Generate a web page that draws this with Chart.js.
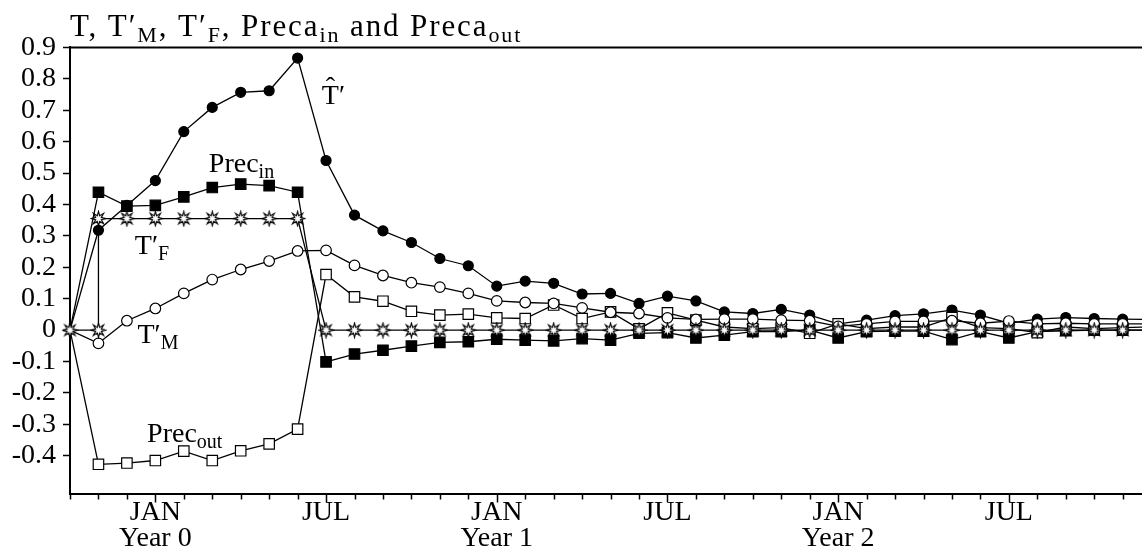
<!DOCTYPE html>
<html>
<head>
<meta charset="utf-8">
<script src="https://cdn.jsdelivr.net/npm/chart.js@4.4.0/dist/chart.umd.min.js"></script>
<style>
  html, body { margin: 0; padding: 0; background: #ffffff; }
  #wrap { width: 1142px; height: 557px; }
</style>
</head>
<body>
<div id="wrap"><canvas id="chart" width="1142" height="557"></canvas></div>
<script>
// Months since the start of the experiment (0 = start, 3 = JAN Year 0).
const months = [0,1,2,3,4,5,6,7,8,9,10,11,12,13,14,15,16,17,18,19,20,21,22,23,24,25,26,27,28,29,30,31,32,33,34,35,36,37,38];

// T-hat prime (filled circles)
const tHat = [0, 0.318, 0.397, 0.476, 0.632, 0.709, 0.757, 0.762, 0.866, 0.540,
  0.366, 0.316, 0.279, 0.228, 0.205, 0.140, 0.156, 0.149, 0.115, 0.117,
  0.085, 0.108, 0.093, 0.058, 0.053, 0.066, 0.048, 0.020, 0.032, 0.046,
  0.052, 0.064, 0.048, 0.022, 0.035, 0.040, 0.037, 0.035, 0.034];

// T'_M (open circles)
const tM = [0, -0.042, 0.030, 0.069, 0.117, 0.161, 0.193, 0.220, 0.252, 0.254,
  0.206, 0.174, 0.151, 0.137, 0.117, 0.093, 0.088, 0.085, 0.071, 0.057,
  0.053, 0.039, 0.034, 0.035, 0.035, 0.032, 0.030, 0.012, 0.020, 0.028,
  0.028, 0.030, 0.022, 0.029, 0.020, 0.022, 0.020, 0.020, 0.020];

// Preca_in (filled squares)
const precIn = [0, 0.439, 0.395, 0.397, 0.424, 0.454, 0.465, 0.460, 0.439, -0.101,
  -0.076, -0.064, -0.051, -0.039, -0.037, -0.029, -0.032, -0.034, -0.027, -0.032,
  -0.010, -0.008, -0.025, -0.016, -0.005, -0.005, 0.000, -0.025, -0.005, -0.003,
  -0.003, -0.030, -0.005, -0.025, -0.005, -0.002, 0.000, 0.000, 0.000];

// Preca_out (open squares)
const precOut = [0, -0.427, -0.423, -0.415, -0.385, -0.415, -0.384, -0.362, -0.315, 0.177,
  0.106, 0.092, 0.060, 0.048, 0.051, 0.039, 0.037, 0.080, 0.037, 0.058,
  0.004, 0.055, 0.032, 0.010, 0.005, 0.008, -0.010, 0.020, 0.005, 0.010,
  0.010, 0.040, 0.008, 0.005, -0.008, 0.010, 0.005, 0.008, 0.010];

// T'_F (stars): a step forcing switched on at month 1 and off at month 9
const tfMonths = [0, 1, 1, 2, 3, 4, 5, 6, 7, 8, 9, 10, 11, 12, 13, 14, 15, 16, 17, 18, 19,
  20, 21, 22, 23, 24, 25, 26, 27, 28, 29, 30, 31, 32, 33, 34, 35, 36, 37, 38];
const tfValues = [0, 0, 0.355, 0.355, 0.355, 0.355, 0.355, 0.355, 0.355, 0.355, 0, 0, 0, 0, 0, 0, 0, 0, 0, 0, 0,
  0, 0, 0, 0, 0, 0, 0, 0, 0, 0, 0, 0, 0, 0, 0, 0, 0, 0, 0];

// Axis ticks and labels
const xTickMonths = [0,1,2,3,4,5,6,7,8,9,10,11,12,13,14,15,16,17,18,19,20,21,22,23,24,25,26,27,28,29,30,31,32,33,34,35,36,37];
const xLabelMonths = [3, 9, 15, 21, 27, 33];
const xLabelLines = [['JAN', 'Year 0'], ['JUL'], ['JAN', 'Year 1'], ['JUL'], ['JAN', 'Year 2'], ['JUL']];
const yTickValues = [-0.4, -0.3, -0.2, -0.1, 0, 0.1, 0.2, 0.3, 0.4, 0.5, 0.6, 0.7, 0.8, 0.9];

const FONT = '"Liberation Serif", "Times New Roman", serif';
const MAIN = 28, SUB = 20, DROP = 6;

function pairs(xs, ys) { return xs.map((x, i) => ({ x: x, y: ys[i] })); }

// Hollow eight-pointed star used for T'_F
function makeStar() {
  const c = document.createElement('canvas');
  c.width = 17; c.height = 17;
  const g = c.getContext('2d');
  g.translate(8.5, 8.5);
  g.beginPath();
  for (let k = 0; k < 16; k++) {
    const r = (k % 2 === 0) ? 7.2 : 3.0;
    const a = k * Math.PI / 8;
    const px = r * Math.cos(a), py = r * Math.sin(a);
    if (k === 0) g.moveTo(px, py); else g.lineTo(px, py);
  }
  g.closePath();
  g.fillStyle = '#ffffff';
  g.fill();
  g.lineWidth = 1.1;
  g.lineJoin = 'miter';
  g.strokeStyle = '#000000';
  g.stroke();
  return c;
}
const star = makeStar();

const skipFirst = r => (ctx => ctx.dataIndex === 0 ? 0 : r);

function richText(ctx, x, y, parts, size, subSize, drop) {
  for (const p of parts) {
    ctx.font = (p.sub ? subSize : size) + 'px ' + FONT;
    ctx.fillText(p.t, x, y + (p.sub ? drop : 0));
    x += ctx.measureText(p.t).width;
  }
  return x;
}

const textPlugin = {
  id: 'textPlugin',
  afterDraw(chart) {
    const ctx = chart.ctx;
    const xs = chart.scales.x, ys = chart.scales.y;
    const area = chart.chartArea;
    ctx.save();
    ctx.fillStyle = '#000';
    ctx.strokeStyle = '#000';
    ctx.textAlign = 'left';
    ctx.textBaseline = 'alphabetic';

    // top frame line at the upper end of the value axis
    ctx.lineWidth = 2;
    ctx.beginPath();
    ctx.moveTo(area.left, area.top);
    ctx.lineTo(area.right, area.top);
    ctx.stroke();

    // month tick marks below the time axis, longer at JAN and JUL
    ctx.lineWidth = 1.5;
    for (const m of xTickMonths) {
      const px = Math.round(xs.getPixelForValue(m)) + 0.5;
      const len = xLabelMonths.includes(m) ? 9 : 6;
      ctx.beginPath();
      ctx.moveTo(px, area.bottom);
      ctx.lineTo(px, area.bottom + len);
      ctx.stroke();
    }

    // title
    ctx.save();
    if ('letterSpacing' in ctx) ctx.letterSpacing = '1.9px';
    richText(ctx, 70, 36, [
      { t: 'T, T\u2032' }, { t: 'M', sub: true },
      { t: ', T\u2032' }, { t: 'F', sub: true },
      { t: ', Preca' }, { t: 'in', sub: true },
      { t: ' and Preca' }, { t: 'out', sub: true }
    ], 31, 22, 6);
    ctx.restore();

    // series names placed next to their curves
    const at = (mx, vy) => [xs.getPixelForValue(mx), ys.getPixelForValue(vy)];

    let [hx, hy] = at(8.85, 0.719);
    ctx.font = MAIN + 'px ' + FONT;
    const tw = ctx.measureText('T').width;
    ctx.fillText('T', hx, hy);
    ctx.textAlign = 'center';
    ctx.fillText('\u02C6', hx + tw / 2, hy - 8);
    ctx.textAlign = 'left';
    ctx.fillText('\u2032', hx + tw, hy);

    let [ix, iy] = at(4.88, 0.503);
    richText(ctx, ix, iy, [{ t: 'Prec' }, { t: 'in', sub: true }], MAIN, SUB, DROP);

    let [fx, fy] = at(2.28, 0.242);
    richText(ctx, fx, fy, [{ t: 'T\u2032' }, { t: 'F', sub: true }], MAIN, SUB, DROP);

    let [mx, my] = at(2.37, -0.041);
    richText(ctx, mx, my, [{ t: 'T\u2032' }, { t: 'M', sub: true }], MAIN, SUB, DROP);

    let [ox, oy] = at(2.71, -0.356);
    richText(ctx, ox, oy, [{ t: 'Prec' }, { t: 'out', sub: true }], MAIN, SUB, DROP);

    ctx.restore();
  }
};

const lineBase = {
  borderColor: '#000000',
  borderWidth: 1.3,
  pointBorderColor: '#000000',
  pointBorderWidth: 1.2,
  tension: 0,
  clip: false
};

new Chart(document.getElementById('chart'), {
  type: 'line',
  data: {
    datasets: [
      Object.assign({}, lineBase, {
        label: "T'F", data: pairs(tfMonths, tfValues), order: 0,
        pointStyle: star, pointRadius: 7, pointBackgroundColor: '#ffffff'
      }),
      Object.assign({}, lineBase, {
        label: "T'M", data: pairs(months, tM), order: 1,
        pointStyle: 'circle', pointRadius: skipFirst(5.3), pointBackgroundColor: '#ffffff'
      }),
      Object.assign({}, lineBase, {
        label: 'Preca out', data: pairs(months, precOut), order: 2,
        pointStyle: 'rect', pointRadius: skipFirst(7.4), pointBackgroundColor: '#ffffff'
      }),
      Object.assign({}, lineBase, {
        label: 'T hat', data: pairs(months, tHat), order: 3,
        pointStyle: 'circle', pointRadius: skipFirst(5), pointBackgroundColor: '#000000'
      }),
      Object.assign({}, lineBase, {
        label: 'Preca in', data: pairs(months, precIn), order: 4,
        pointStyle: 'rect', pointRadius: skipFirst(7.4), pointBackgroundColor: '#000000'
      })
    ]
  },
  options: {
    responsive: false,
    animation: false,
    events: [],
    layout: { autoPadding: false, padding: { top: 47.4, left: 0, right: 0, bottom: 0 } },
    plugins: { legend: { display: false }, tooltip: { enabled: false }, title: { display: false } },
    scales: {
      x: {
        type: 'linear',
        min: 0,
        max: 37.68,
        afterBuildTicks: s => { s.ticks = xTickMonths.map(v => ({ value: v })); },
        afterFit: s => { s.height = 63.5; s.paddingLeft = 0; s.paddingRight = 0; s.paddingTop = 0; s.paddingBottom = 0; },
        grid: { display: true, drawOnChartArea: false, drawTicks: false },
        border: { display: true, color: '#000000', width: 2 },
        ticks: {
          autoSkip: false,
          maxRotation: 0,
          minRotation: 0,
          padding: 6,
          color: '#000000',
          font: { family: FONT, size: MAIN, lineHeight: 0.93 },
          callback: v => {
            const k = xLabelMonths.indexOf(v);
            return k < 0 ? '' : xLabelLines[k];
          }
        }
      },
      y: {
        type: 'linear',
        min: -0.52,
        max: 0.9,
        afterBuildTicks: s => { s.ticks = yTickValues.map(v => ({ value: v })); },
        afterFit: s => { s.width = 70; s.paddingTop = 0; s.paddingBottom = 0; s.paddingLeft = 0; s.paddingRight = 0; },
        grid: { display: true, drawOnChartArea: false, drawTicks: true, tickLength: 7, tickWidth: 1.5, tickColor: '#000000' },
        border: { display: true, color: '#000000', width: 2 },
        ticks: {
          autoSkip: false,
          padding: 7,
          color: '#000000',
          font: { family: FONT, size: MAIN },
          callback: v => (Math.abs(v) < 1e-9 ? '0' : v.toFixed(1))
        }
      }
    }
  },
  plugins: [textPlugin]
});
</script>
</body>
</html>
